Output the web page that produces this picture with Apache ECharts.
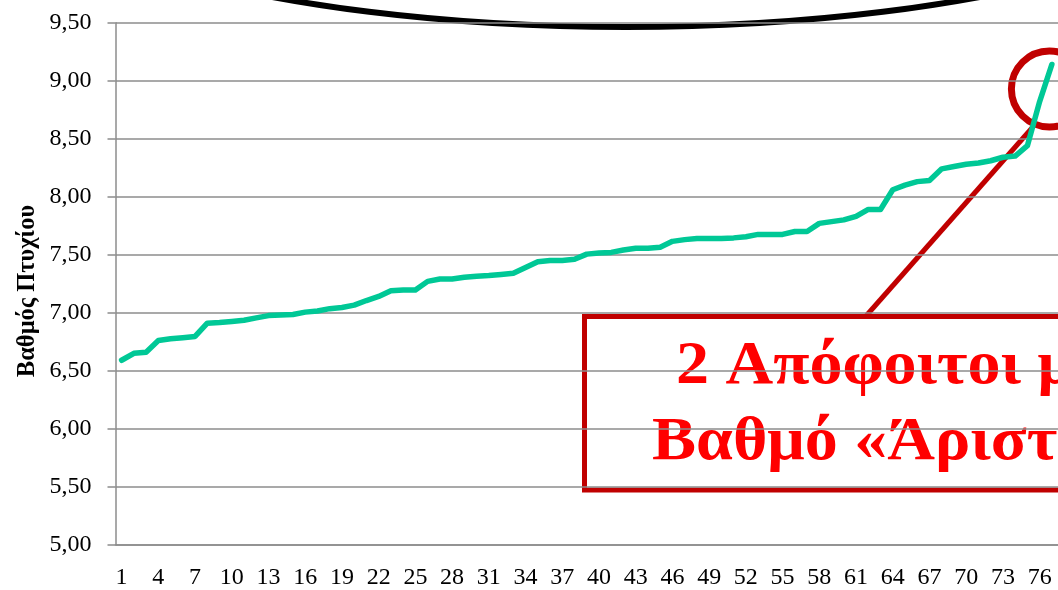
<!DOCTYPE html>
<html>
<head>
<meta charset="utf-8">
<script src="https://cdn.jsdelivr.net/npm/echarts@6/dist/echarts.min.js"></script>
<style>
  html, body { margin: 0; padding: 0; background: #fff; }
  #main { width: 1058px; height: 590px; }
</style>
</head>
<body>
<div id="main"></div>
<script>
// graduates sorted by degree grade
var graduates = [
  1, 2, 3, 4, 5, 6, 7, 8, 9, 10, 11, 12, 13, 14, 15, 16, 17, 18, 19, 20,
  21, 22, 23, 24, 25, 26, 27, 28, 29, 30, 31, 32, 33, 34, 35, 36, 37, 38, 39, 40,
  41, 42, 43, 44, 45, 46, 47, 48, 49, 50, 51, 52, 53, 54, 55, 56, 57, 58, 59, 60,
  61, 62, 63, 64, 65, 66, 67, 68, 69, 70, 71, 72, 73, 74, 75, 76, 77
]
var grades = [
  6.59, 6.65, 6.66, 6.76, 6.775, 6.785, 6.795, 6.91, 6.915, 6.925,
  6.935, 6.955, 6.975, 6.98, 6.985, 7.005, 7.015, 7.035, 7.045, 7.065,
  7.105, 7.14, 7.19, 7.195, 7.195, 7.27, 7.29, 7.29, 7.305, 7.315,
  7.32, 7.33, 7.34, 7.39, 7.44, 7.45, 7.45, 7.46, 7.505, 7.515,
  7.52, 7.54, 7.555, 7.555, 7.565, 7.615, 7.63, 7.64, 7.64, 7.64,
  7.645, 7.655, 7.675, 7.675, 7.675, 7.70, 7.70, 7.77, 7.785, 7.80,
  7.83, 7.89, 7.89, 8.06, 8.10, 8.13, 8.14, 8.24, 8.26, 8.28,
  8.29, 8.31, 8.34, 8.35, 8.44, 8.82, 9.14
]
var yMin = 5, yMax = 9.5, yStep = 0.5
var yTitle = 'Βαθμός Πτυχίου'
var noteLines = ['2 Απόφοιτοι με', 'Βαθμό «Άριστα»']

var serif = '"Liberation Serif", "DejaVu Serif", serif'
var gridCol = '#8c8c8c'
var red = '#c00000'

var chart = echarts.init(document.getElementById('main'))
chart.setOption({
  animation: false,
  grid: { left: 115.5, right: -3, top: 22.7, bottom: 45.3, containLabel: false },
  xAxis: {
    type: 'category',
    data: graduates,
    boundaryGap: true,
    z: 3,
    axisLine: { lineStyle: { color: gridCol, width: 1.5 } },
    axisTick: { show: false },
    axisLabel: { interval: 2, margin: 21, color: '#000', fontFamily: serif, fontSize: 24 },
    splitLine: { show: false }
  },
  yAxis: {
    type: 'value',
    min: yMin,
    max: yMax,
    interval: yStep,
    z: 3,
    axisLine: { show: true, lineStyle: { color: gridCol, width: 1.5 } },
    axisTick: { show: true, length: 8, lineStyle: { color: gridCol, width: 1.5 } },
    axisLabel: {
      margin: 24, color: '#000', fontFamily: serif, fontSize: 24,
      formatter: function (v) { return v.toFixed(2).replace('.', ',') }
    },
    splitLine: { lineStyle: { color: gridCol, width: 1.5 } }
  },
  graphic: [
    {
      // axis title, rotated
      type: 'text', x: 28, y: 291, rotation: Math.PI / 2,
      style: { text: yTitle, fill: '#000', font: 'bold 24.5px ' + serif, align: 'center', verticalAlign: 'middle' }
    },
    {
      type: 'ellipse', z: -1,
      shape: { cx: 626, cy: -166, rx: 660, ry: 193 },
      style: { fill: 'none', stroke: '#000', lineWidth: 6 }
    },
    {
      type: 'rect', z: -1,
      shape: { x: 584.5, y: 316.5, width: 600, height: 173.5 },
      style: { fill: 'none', stroke: red, lineWidth: 5 }
    },
    {
      type: 'line', z: -1,
      shape: { x1: 866, y1: 316, x2: 1032, y2: 128 },
      style: { stroke: red, lineWidth: 5 }
    },
    {
      type: 'circle', z: -1,
      shape: { cx: 1049.4, cy: 89, r: 38 },
      style: { fill: 'none', stroke: red, lineWidth: 7 }
    },
    {
      type: 'text', z: -1, x: 676, y: 336, scaleX: 1.065,
      style: { text: noteLines[0], fill: '#ff0000', font: 'bold 62px ' + serif, align: 'left', verticalAlign: 'top' }
    },
    {
      type: 'text', z: -1, x: 652, y: 412, scaleX: 1.065,
      style: { text: noteLines[1], fill: '#ff0000', font: 'bold 62px ' + serif, align: 'left', verticalAlign: 'top' }
    }
  ],
  series: [{
    type: 'line',
    data: grades,
    z: 4,
    showSymbol: false,
    lineStyle: { color: '#00c896', width: 5.5, cap: 'round', join: 'round' }
  }]
})
</script>
</body>
</html>
